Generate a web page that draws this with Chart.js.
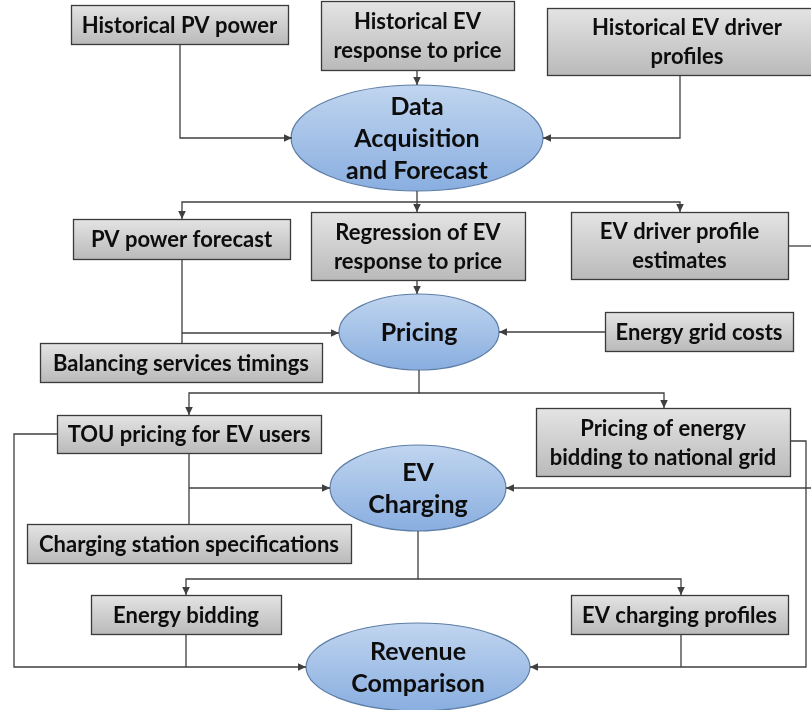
<!DOCTYPE html>
<html>
<head>
<meta charset="utf-8">
<script src="https://cdn.jsdelivr.net/npm/chart.js@4/dist/chart.umd.min.js"></script>
<style>
  html, body { margin: 0; padding: 0; background: #fff; }
  canvas { display: block; }
</style>
</head>
<body>
<canvas id="flow" width="811" height="710"></canvas>
<script>
// rectangular process boxes: label lines and [x, y, w, h] in diagram units
const boxLabels = [
    ['Historical PV power'],
    ['Historical EV', 'response to price'],
    ['Historical EV driver', 'profiles'],
    ['PV power forecast'],
    ['Regression of EV', 'response to price'],
    ['EV driver profile', 'estimates'],
    ['Balancing services timings'],
    ['Energy grid costs'],
    ['TOU pricing for EV users'],
    ['Pricing of energy', 'bidding to national grid'],
    ['Charging station specifications'],
    ['Energy bidding'],
    ['EV charging profiles'],
];
const boxRects = [
    [71, 5, 217, 39],
    [321, 1, 193, 69],
    [547, 8, 280, 67],
    [73, 219, 217, 40],
    [311, 212, 214, 68],
    [571, 212, 217, 67],
    [40, 343, 282, 39],
    [605, 312, 188, 39],
    [57, 415, 264, 38],
    [536, 408, 254, 68],
    [27, 524, 324, 39],
    [91, 595, 190, 39],
    [571, 595, 217, 39],
];

// elliptical stages: label lines and [cx, cy, rx, ry]
const stageLabels = [
    ['Data', 'Acquisition', 'and Forecast'],
    ['Pricing'],
    ['EV', 'Charging'],
    ['Revenue', 'Comparison'],
];
const stageShapes = [
    [417, 138, 126, 53],
    [419, 332, 80, 38],
    [418, 488, 88, 43],
    [418, 667, 112, 44],
];

// connectors: polylines, arrowhead at the last point when flagged
const links = [
    [[180, 44], [180, 138], [292, 138]],
    [[417, 70], [417, 85]],
    [[680, 75], [680, 138], [543, 138]],
    [[417, 191], [417, 212]],
    [[417, 202], [182, 202], [182, 219]],
    [[417, 202], [680, 202], [680, 212]],
    [[417, 280], [417, 294]],
    [[182, 259], [182, 343]],
    [[182, 333], [339, 333]],
    [[605, 332], [499, 332]],
    [[788, 246], [811, 246]],
    [[419, 370], [419, 393], [189, 393], [189, 415]],
    [[419, 393], [664, 393], [664, 408]],
    [[189, 453], [189, 524]],
    [[189, 488], [330, 488]],
    [[57, 434], [14, 434], [14, 667], [306, 667]],
    [[790, 441], [806, 441], [806, 667], [530, 667]],
    [[811, 488], [506, 488]],
    [[418, 531], [418, 579], [186, 579], [186, 595]],
    [[418, 579], [681, 579], [681, 595]],
    [[186, 634], [186, 667]],
    [[681, 634], [681, 667]],
];
const linkArrows = [true, true, true, true, true, true, true, false, true, true, false,
    true, true, false, true, true, true, true, true, true, false, false];

const lineColor = '#3f3f3f';
const textColor = '#0d0d0d';

const nodesPlugin = {
    id: 'nodes',
    beforeDatasetsDraw(chart) {
        const { ctx, scales: { x, y } } = chart;
        ctx.save();

        boxRects.forEach((r, i) => {
            const x0 = x.getPixelForValue(r[0]);
            const y0 = y.getPixelForValue(r[1]);
            const x1 = x.getPixelForValue(r[0] + r[2]);
            const y1 = y.getPixelForValue(r[1] + r[3]);
            const grad = ctx.createLinearGradient(0, y0, 0, y1);
            grad.addColorStop(0, '#e4e4e4');
            grad.addColorStop(1, '#bababa');
            ctx.fillStyle = grad;
            ctx.fillRect(x0, y0, x1 - x0, y1 - y0);
            ctx.strokeStyle = '#3a3a3a';
            ctx.lineWidth = 1.3;
            ctx.strokeRect(x0 + 0.5, y0 + 0.5, x1 - x0, y1 - y0);

            const lines = boxLabels[i];
            const cx = (x0 + x1) / 2;
            const cy = (y0 + y1) / 2;
            ctx.fillStyle = textColor;
            ctx.font = 'bold 22px Lato';
            ctx.textAlign = 'center';
            ctx.textBaseline = 'middle';
            lines.forEach((t, k) => {
                ctx.fillText(t, cx, cy + 1 + (k - (lines.length - 1) / 2) * 29);
            });
        });

        stageShapes.forEach((e, i) => {
            const cx = x.getPixelForValue(e[0]);
            const cy = y.getPixelForValue(e[1]);
            const rx = x.getPixelForValue(e[0] + e[2]) - cx;
            const ry = y.getPixelForValue(e[1] + e[3]) - cy;
            const grad = ctx.createLinearGradient(0, cy - ry, 0, cy + ry);
            grad.addColorStop(0, '#c0d5ef');
            grad.addColorStop(1, '#89aee0');
            ctx.beginPath();
            ctx.ellipse(cx, cy, rx, ry, 0, 0, Math.PI * 2);
            ctx.fillStyle = grad;
            ctx.fill();
            ctx.strokeStyle = '#5d7ea6';
            ctx.lineWidth = 1.2;
            ctx.stroke();

            const lines = stageLabels[i];
            ctx.fillStyle = textColor;
            ctx.font = 'bold 25px Lato';
            ctx.textAlign = 'center';
            ctx.textBaseline = 'middle';
            lines.forEach((t, k) => {
                ctx.fillText(t, cx, cy + 1 + (k - (lines.length - 1) / 2) * 32);
            });
        });

        ctx.restore();
    },
    afterDatasetsDraw(chart) {
        const { ctx, scales: { x, y } } = chart;
        ctx.save();
        ctx.fillStyle = lineColor;
        links.forEach((pts, i) => {
            if (!linkArrows[i]) return;
            const a = pts[pts.length - 2];
            const b = pts[pts.length - 1];
            const ax = x.getPixelForValue(a[0]), ay = y.getPixelForValue(a[1]);
            const bx = x.getPixelForValue(b[0]), by = y.getPixelForValue(b[1]);
            const ang = Math.atan2(by - ay, bx - ax);
            const len = 8, half = 3.8;
            ctx.beginPath();
            ctx.moveTo(bx, by);
            ctx.lineTo(bx - len * Math.cos(ang) + half * Math.sin(ang), by - len * Math.sin(ang) - half * Math.cos(ang));
            ctx.lineTo(bx - len * Math.cos(ang) - half * Math.sin(ang), by - len * Math.sin(ang) + half * Math.cos(ang));
            ctx.closePath();
            ctx.fill();
        });
        ctx.restore();
    },
};

const datasets = links.map(pts => ({
    data: pts.map(p => ({ x: p[0], y: p[1] })),
    showLine: true,
    borderColor: lineColor,
    borderWidth: 1.3,
    pointRadius: 0,
    fill: false,
    tension: 0,
}));

new Chart(document.getElementById('flow'), {
    type: 'scatter',
    data: { datasets },
    options: {
        responsive: false,
        animation: false,
        events: [],
        layout: { padding: 0 },
        plugins: { legend: { display: false }, tooltip: { enabled: false } },
        scales: {
            x: { type: 'linear', min: 0, max: 811, display: false },
            y: { type: 'linear', min: 0, max: 710, reverse: true, display: false },
        },
    },
    plugins: [nodesPlugin],
});
</script>
</body>
</html>
